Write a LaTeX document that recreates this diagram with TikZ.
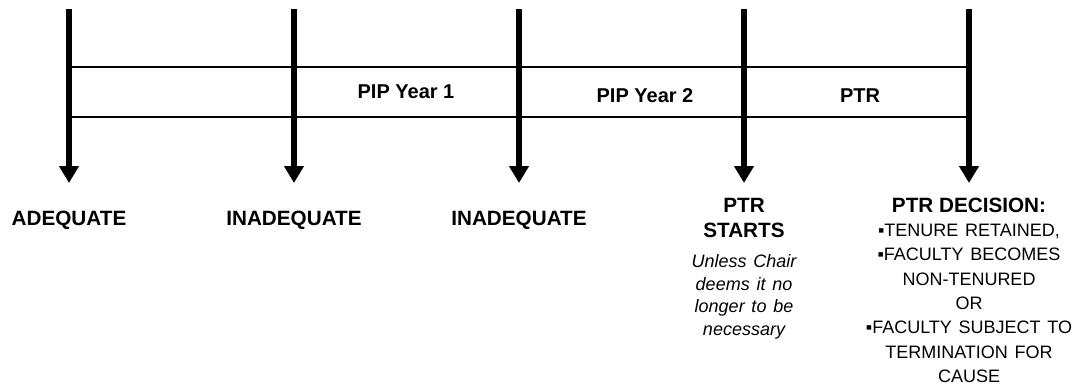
\documentclass[tikz,border=0pt]{standalone}
\usepackage{fontspec}
\setmainfont{Liberation Sans}
\newfontfamily\widesans[WordSpace=1.35]{Liberation Sans}
\usetikzlibrary{arrows.meta}
\begin{document}
\begin{tikzpicture}[x=1pt,y=-1pt,
  tick/.style={line width=5.5pt, -{Triangle[width=19pt,length=17pt]}},
  band/.style={line width=1.4pt},
  head/.style={font=\fontsize{20.7}{25.5}\selectfont\bfseries, inner sep=0pt, align=center},
  item/.style={font=\fontsize{18}{24.3}\selectfont\widesans, inner sep=0pt, align=center},
  note/.style={font=\fontsize{18}{22.5}\selectfont\widesans\itshape, inner sep=0pt, align=center},
  band label/.style={font=\fontsize{20}{24}\selectfont\bfseries, inner sep=0pt}]
\useasboundingbox (0,0) rectangle (1078,389);
\foreach \i/\x in {1/69,2/294,3/519,4/744,5/969}{
  \coordinate (t\i) at (\x,9);
  \coordinate (b\i) at (\x,183);
}
\coordinate (ul) at (69,67);
\coordinate (ur) at (969,67);
\coordinate (ll) at (69,117);
\coordinate (lr) at (969,117);
\draw[band] (ul) -- (ur);
\draw[band] (ll) -- (lr);
\foreach \i in {1,...,5}{
  \draw[tick] (t\i) -- (b\i);
}
\node[band label] (pip1) at (406,92) {PIP Year 1};
\node[band label] (pip2) at (645,96) {PIP Year 2};
\node[band label] (ptr) at (860,96) {PTR};
\node[head, anchor=north] (adeq) at (69,211) {ADEQUATE};
\node[head, anchor=north] (inad1) at (294,211) {INADEQUATE};
\node[head, anchor=north] (inad2) at (519,211) {INADEQUATE};
\node[head, anchor=north] (starts) at (744,198) {PTR\\STARTS};
\node[note, anchor=north] (unless) at (744,254.5) {Unless Chair\\deems it no\\longer to be\\necessary};
\node[head, anchor=north] (dec) at (969,198) {PTR DECISION:};
\node[item, anchor=north] (list) at (969,224) {▪TENURE RETAINED,\\▪FACULTY BECOMES\\NON-TENURED\\OR\\▪FACULTY SUBJECT TO\\TERMINATION FOR\\CAUSE};
\end{tikzpicture}
\end{document}
